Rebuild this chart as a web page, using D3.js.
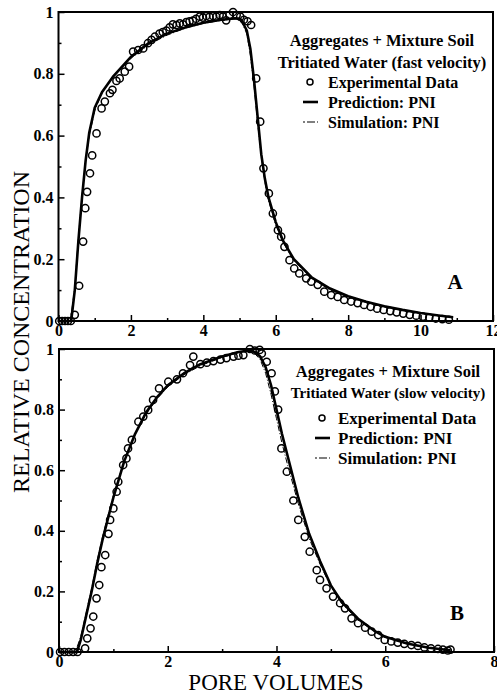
<!DOCTYPE html>
<html>
<head>
<meta charset="utf-8">
<script src="https://cdn.jsdelivr.net/npm/d3@7"></script>
<style>
  body { margin: 0; background: #fff; }
  svg { display: block; font-family: "Liberation Serif", "Times New Roman", serif; }
</style>
</head>
<body>
<div id="chart"></div>
<script>
// ---- panel A : fast velocity ----
const fastExpX = [0.02, 0.1, 0.18, 0.26, 0.34, 0.45, 0.57, 0.68, 0.74, 0.79, 0.87, 0.93, 1.05, 1.19, 1.28, 1.42, 1.49, 1.6, 1.69, 1.83, 1.95, 2.06, 2.2, 2.34, 2.47, 2.57, 2.66, 2.79, 2.88, 2.98, 3.07, 3.16, 3.26, 3.35, 3.44, 3.53, 3.62, 3.71, 3.8, 3.9, 3.99, 4.08, 4.17, 4.27, 4.36, 4.45, 4.54, 4.63, 4.72, 4.82, 4.92, 5.02, 5.12, 5.22, 5.32, 5.46, 5.57, 5.66, 5.81, 5.92, 6.06, 6.15, 6.24, 6.38, 6.51, 6.65, 6.84, 6.98, 7.16, 7.34, 7.53, 7.71, 7.89, 8.08, 8.26, 8.44, 8.62, 8.8, 8.98, 9.16, 9.34, 9.52, 9.7, 9.88, 10.06, 10.24, 10.42, 10.6, 10.78]
const fastExpY = [0, 0, 0, 0, 0, 0.02, 0.114, 0.257, 0.365, 0.418, 0.478, 0.536, 0.607, 0.688, 0.71, 0.737, 0.748, 0.777, 0.785, 0.807, 0.823, 0.872, 0.877, 0.882, 0.899, 0.91, 0.92, 0.93, 0.935, 0.94, 0.95, 0.96, 0.958, 0.963, 0.96, 0.967, 0.97, 0.972, 0.978, 0.985, 0.982, 0.987, 0.984, 0.987, 0.985, 0.99, 0.985, 0.973, 0.99, 1.0, 0.99, 0.985, 0.975, 0.97, 0.958, 0.785, 0.645, 0.494, 0.413, 0.348, 0.294, 0.273, 0.24, 0.197, 0.17, 0.154, 0.138, 0.127, 0.117, 0.095, 0.084, 0.078, 0.068, 0.063, 0.058, 0.052, 0.046, 0.04, 0.036, 0.032, 0.028, 0.024, 0.02, 0.017, 0.014, 0.011, 0.008, 0.006, 0.004]
const fastPredX = [0, 0.35, 0.45, 0.55, 0.65, 0.75, 0.85, 1.0, 1.2, 1.5, 2.0, 2.5, 3.0, 3.5, 4.0, 4.5, 4.9, 5.05, 5.2, 5.3, 5.4, 5.5, 5.6, 5.7, 5.8, 6.0, 6.2, 6.5, 7.0, 7.5, 8.0, 8.5, 9.0, 9.5, 10.0, 10.5, 10.9]
const fastPredY = [0, 0, 0.1, 0.26, 0.4, 0.52, 0.61, 0.69, 0.74, 0.79, 0.855, 0.9, 0.93, 0.95, 0.965, 0.975, 0.98, 0.975, 0.94, 0.88, 0.78, 0.66, 0.54, 0.46, 0.4, 0.32, 0.26, 0.2, 0.14, 0.105, 0.08, 0.062, 0.048, 0.036, 0.026, 0.018, 0.012]
const fastSimX = [0, 0.33, 0.45, 0.55, 0.65, 0.75, 0.85, 1.0, 1.2, 1.5, 2.0, 2.5, 3.0, 3.5, 4.0, 4.5, 4.9, 5.05, 5.2, 5.3, 5.4, 5.5, 5.6, 5.7, 5.8, 6.0, 6.2, 6.5, 7.0, 7.5, 8.0, 8.5, 9.0, 9.5, 10.0, 10.5, 10.9]
const fastSimY = [0, 0, 0.11, 0.27, 0.41, 0.52, 0.6, 0.68, 0.74, 0.79, 0.85, 0.895, 0.925, 0.948, 0.963, 0.973, 0.978, 0.97, 0.93, 0.86, 0.76, 0.64, 0.53, 0.45, 0.39, 0.31, 0.255, 0.195, 0.138, 0.1, 0.078, 0.06, 0.046, 0.035, 0.025, 0.017, 0.011]

// ---- panel B : slow velocity ----
const slowExpX = [0.02, 0.1, 0.18, 0.26, 0.34, 0.48, 0.52, 0.58, 0.63, 0.69, 0.74, 0.78, 0.85, 0.91, 0.94, 1.0, 1.06, 1.09, 1.18, 1.24, 1.27, 1.34, 1.46, 1.55, 1.64, 1.73, 1.84, 2.01, 2.17, 2.28, 2.41, 2.47, 2.6, 2.72, 2.84, 2.97, 3.08, 3.21, 3.3, 3.39, 3.51, 3.6, 3.69, 3.73, 3.82, 3.91, 3.97, 4.03, 4.09, 4.19, 4.31, 4.4, 4.52, 4.61, 4.74, 4.8, 4.92, 5.04, 5.17, 5.26, 5.38, 5.5, 5.63, 5.75, 5.87, 5.99, 6.11, 6.23, 6.35, 6.48, 6.6, 6.72, 6.84, 6.97, 7.06, 7.15, 7.2]
const slowExpY = [0, 0, 0, 0, 0, 0.012, 0.045, 0.078, 0.117, 0.177, 0.221, 0.28, 0.32, 0.39, 0.436, 0.474, 0.529, 0.562, 0.617, 0.639, 0.672, 0.7, 0.76, 0.777, 0.799, 0.832, 0.87, 0.892, 0.9, 0.92, 0.947, 0.975, 0.95, 0.955, 0.96, 0.965, 0.97, 0.975, 0.978, 0.98, 1.0, 0.995, 0.997, 0.985, 0.958, 0.92, 0.86, 0.8, 0.672, 0.595, 0.5, 0.436, 0.38, 0.331, 0.27, 0.238, 0.21, 0.183, 0.161, 0.144, 0.111, 0.095, 0.08, 0.067, 0.056, 0.04, 0.035, 0.031, 0.027, 0.023, 0.02, 0.015, 0.012, 0.01, 0.008, 0.005, 0.008]
const slowPredX = [0, 0.33, 0.4, 0.5, 0.6, 0.7, 0.8, 0.9, 1.0, 1.1, 1.2, 1.4, 1.6, 1.8, 2.0, 2.3, 2.6, 3.0, 3.3, 3.5, 3.6, 3.7, 3.8, 3.9, 4.0, 4.1, 4.2, 4.4, 4.6, 4.8, 5.0, 5.2, 5.5, 5.8, 6.0, 6.4, 6.8, 7.2]
const slowPredY = [0, 0, 0.04, 0.12, 0.2, 0.29, 0.37, 0.44, 0.51, 0.57, 0.63, 0.72, 0.79, 0.84, 0.88, 0.92, 0.95, 0.975, 0.99, 0.995, 0.99, 0.975, 0.94, 0.88, 0.8, 0.72, 0.65, 0.51, 0.39, 0.3, 0.22, 0.165, 0.11, 0.07, 0.05, 0.028, 0.014, 0.006]
const slowSimX = [0, 0.3, 0.4, 0.5, 0.6, 0.7, 0.8, 0.9, 1.0, 1.1, 1.2, 1.4, 1.6, 1.8, 2.0, 2.3, 2.6, 3.0, 3.3, 3.5, 3.6, 3.7, 3.8, 3.9, 4.0, 4.1, 4.2, 4.4, 4.6, 4.8, 5.0, 5.2, 5.5, 5.8, 6.0, 6.4, 6.8, 7.2]
const slowSimY = [0, 0, 0.05, 0.13, 0.21, 0.3, 0.38, 0.45, 0.515, 0.575, 0.63, 0.72, 0.785, 0.835, 0.875, 0.915, 0.945, 0.972, 0.988, 0.993, 0.985, 0.965, 0.92, 0.85, 0.77, 0.69, 0.62, 0.49, 0.375, 0.29, 0.215, 0.16, 0.105, 0.068, 0.048, 0.027, 0.013, 0.006]

const yTicks = [0, 0.2, 0.4, 0.6, 0.8, 1]
const yMinor = [0.1, 0.3, 0.5, 0.7, 0.9]
const fastXTicks = [0, 2, 4, 6, 8, 10, 12]
const fastXMinor = [1, 3, 5, 7, 9, 11]
const slowXTicks = [0, 2, 4, 6, 8]
const slowXMinor = [1, 3, 5, 7]

const legendFast = ["Aggregates + Mixture Soil", "Tritiated Water (fast velocity)"]
const legendSlow = ["Aggregates + Mixture Soil", "Tritiated Water (slow velocity)"]
const legendItems = ["Experimental Data", "Prediction: PNI", "Simulation: PNI"]

const width = 497
const height = 698

const svg = d3.select("#chart").append("svg")
    .attr("width", width)
    .attr("height", height)
    .attr("viewBox", [0, 0, width, height])

svg.append("rect").attr("width", width).attr("height", height).attr("fill", "#fff")

function drawPanel(opt) {
    const x = d3.scaleLinear([0, opt.xMax], [opt.left, opt.right])
    const y = d3.scaleLinear([0, 1], [opt.bottom, opt.top])
    const g = svg.append("g")

    // minor ticks
    g.append("g")
        .attr("transform", `translate(0,${opt.bottom})`)
        .call(d3.axisBottom(x).tickValues(opt.xMinor).tickSize(-3).tickFormat(""))
        .call(a => a.select(".domain").remove())
    g.append("g")
        .attr("transform", `translate(${opt.left},0)`)
        .call(d3.axisLeft(y).tickValues(yMinor).tickSize(-3).tickFormat(""))
        .call(a => a.select(".domain").remove())

    // major ticks + labels
    g.append("g")
        .attr("transform", `translate(0,${opt.bottom})`)
        .call(d3.axisBottom(x).tickValues(opt.xTicks).tickSize(-6).tickPadding(4).tickFormat(d3.format("~g")))
        .call(a => a.select(".domain").remove())
        .call(a => a.selectAll("text").attr("font-size", 16).attr("font-weight", "bold")
            .attr("font-family", "Liberation Serif").attr("fill", "#000"))
    g.append("g")
        .attr("transform", `translate(${opt.left},0)`)
        .call(d3.axisLeft(y).tickValues(yTicks).tickSize(-6).tickPadding(5).tickFormat(d3.format("~g")))
        .call(a => a.select(".domain").remove())
        .call(a => a.selectAll("text").attr("font-size", 16).attr("font-weight", "bold")
            .attr("font-family", "Liberation Serif").attr("fill", "#000"))
    g.selectAll(".tick line").attr("stroke", "#000").attr("stroke-width", 1.5)

    // frame
    g.append("rect")
        .attr("x", opt.left).attr("y", opt.top)
        .attr("width", opt.right - opt.left).attr("height", opt.bottom - opt.top)
        .attr("fill", "none").attr("stroke", "#000").attr("stroke-width", 2)

    const line = d3.line().x(d => x(d[0])).y(d => y(d[1]))

    // simulation (dash-dot, thin)
    g.append("path")
        .attr("d", line(d3.zip(opt.simX, opt.simY)))
        .attr("fill", "none").attr("stroke", "#000").attr("stroke-width", 1)
        .attr("stroke-dasharray", "6,2,1,2")

    // prediction (solid, thick)
    g.append("path")
        .attr("d", line(d3.zip(opt.predX, opt.predY)))
        .attr("fill", "none").attr("stroke", "#000").attr("stroke-width", 2.6)
        .attr("stroke-linejoin", "round")

    // experimental data
    g.append("g")
        .selectAll("circle")
        .data(d3.zip(opt.expX, opt.expY))
        .join("circle")
        .attr("cx", d => x(d[0]))
        .attr("cy", d => y(d[1]))
        .attr("r", 3.6)
        .attr("fill", "none").attr("stroke", "#000").attr("stroke-width", 1.5)

    // legend
    const L = opt.legend
    g.append("text").attr("x", L.titleX).attr("y", L.titleY[0]).attr("text-anchor", "middle")
        .attr("font-size", L.titleSize[0]).attr("font-weight", "bold").text(opt.titles[0])
    g.append("text").attr("x", L.titleX).attr("y", L.titleY[1]).attr("text-anchor", "middle")
        .attr("font-size", L.titleSize[1]).attr("font-weight", "bold").text(opt.titles[1])
    legendItems.forEach((t, i) => {
        g.append("text").attr("x", L.textX).attr("y", L.itemY[i])
            .attr("font-size", L.itemSize).attr("font-weight", "bold").text(t)
    })
    const my = L.itemY.map(v => v - 6)
    g.append("circle").attr("cx", L.symX + 7).attr("cy", my[0]).attr("r", 3)
        .attr("fill", "none").attr("stroke", "#000").attr("stroke-width", 1.5)
    g.append("line").attr("x1", L.symX).attr("x2", L.symX + 15).attr("y1", my[1]).attr("y2", my[1])
        .attr("stroke", "#000").attr("stroke-width", 2.6)
    g.append("line").attr("x1", L.symX).attr("x2", L.symX + 15).attr("y1", my[2]).attr("y2", my[2])
        .attr("stroke", "#000").attr("stroke-width", 1.2).attr("stroke-dasharray", "2,2,8")

    // panel letter
    g.append("text").attr("x", opt.letterX).attr("y", opt.letterY).attr("text-anchor", "middle")
        .attr("font-size", 21).attr("font-weight", "bold").text(opt.letter)
}

drawPanel({
    xMax: 12, left: 58.5, right: 493, top: 12, bottom: 321,
    xTicks: fastXTicks, xMinor: fastXMinor,
    expX: fastExpX, expY: fastExpY, predX: fastPredX, predY: fastPredY, simX: fastSimX, simY: fastSimY,
    titles: legendFast,
    legend: { titleX: 382, titleY: [46, 68], titleSize: [16.5, 16.5], textX: 328, itemY: [88, 108, 128], itemSize: 16, symX: 303 },
    letter: "A", letterX: 455, letterY: 289
})

drawPanel({
    xMax: 8, left: 59, right: 494, top: 349, bottom: 652,
    xTicks: slowXTicks, xMinor: slowXMinor,
    expX: slowExpX, expY: slowExpY, predX: slowPredX, predY: slowPredY, simX: slowSimX, simY: slowSimY,
    titles: legendSlow,
    legend: { titleX: 388, titleY: [377, 398], titleSize: [16.5, 15], textX: 338, itemY: [424, 444, 464], itemSize: 17, symX: 315 },
    letter: "B", letterX: 457, letterY: 620
})

// axis titles
svg.append("text")
    .attr("transform", "translate(29,332) rotate(-90)")
    .attr("text-anchor", "middle")
    .attr("font-size", 24)
    .text("RELATIVE CONCENTRATION")

svg.append("text")
    .attr("x", 276).attr("y", 690)
    .attr("text-anchor", "middle")
    .attr("font-size", 23)
    .text("PORE VOLUMES")
</script>
</body>
</html>
